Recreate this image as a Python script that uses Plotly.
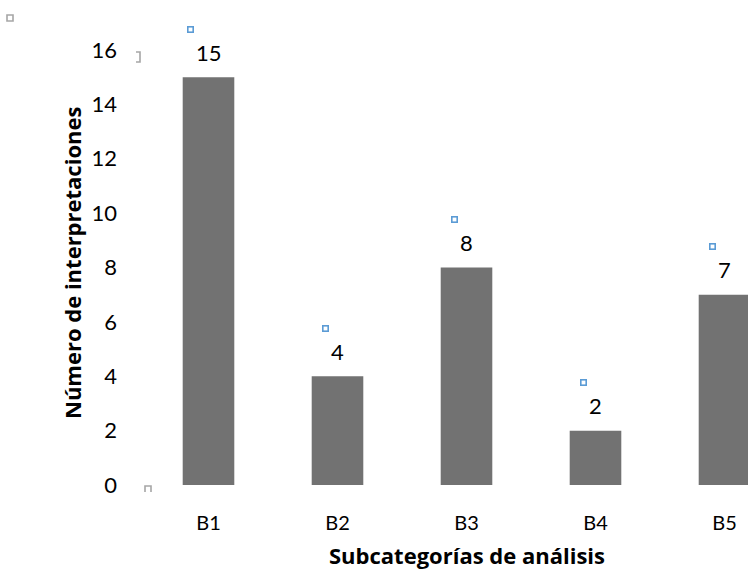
import plotly.graph_objects as go

categories = ["B1", "B2", "B3", "B4", "B5"]
values = [15, 4, 8, 2, 7]
y_ticks = [0, 2, 4, 6, 8, 10, 12, 14, 16]
x_title = "Subcategorías de análisis"
y_title = "Número de interpretaciones"

FONT = "Lato, 'Open Sans', sans-serif"
TFONT = "'Open Sans', Lato, sans-serif"
W, H = 748, 573
L, R, T, B = 144, 0, 50, 88
PW, PH = W - L - R, H - T - B

def px(xp):
    return (xp - L) / PW

def py(yp):
    return (H - B - yp) / PH

fig = go.Figure()
fig.add_trace(go.Bar(
    x=categories, y=values, width=0.4,
    marker=dict(color="#727272", line=dict(width=0)),
    hoverinfo="skip",
))

annotations = []
for c, v in zip(categories, values):
    annotations.append(dict(
        x=c, y=v, xref="x", yref="y", text=str(v), showarrow=False,
        yshift=25, yanchor="middle", xanchor="center",
        font=dict(family=FONT, size=22, color="#000000"),
    ))
    nd = len(str(v))
    annotations.append(dict(
        x=c, y=v, xref="x", yref="y", text="", showarrow=False,
        width=4, height=4, borderwidth=1.6, bordercolor="#5B9BD5", borderpad=0,
        xshift=-(6 + 6 * nd), yshift=48, xanchor="center", yanchor="middle",
    ))

annotations.append(dict(
    x="B3", xref="x", y=0, yref="paper", yanchor="bottom", xanchor="center", yshift=-87,
    text="<b>" + x_title + "</b>", showarrow=False,
    font=dict(family=TFONT, size=22, color="#000000"),
))
annotations.append(dict(
    x=0, xref="paper", xshift=-72, xanchor="center", y=py(263), yref="paper", yanchor="middle",
    text="<b>" + y_title + "</b>", showarrow=False, textangle=-90,
    font=dict(family=TFONT, size=22, color="#000000"),
))

gray = "#A6A6A6"
shapes = [
    dict(type="rect", xref="paper", yref="paper",
         x0=px(7), x1=px(13), y0=py(21), y1=py(15),
         line=dict(color=gray, width=1.6), fillcolor="white"),
    dict(type="path", xref="paper", yref="paper",
         path=f"M {px(136)},{py(52)} L {px(140)},{py(52)} L {px(140)},{py(62)} L {px(136)},{py(62)}",
         line=dict(color=gray, width=1.6)),
    dict(type="path", xref="paper", yref="paper",
         path=f"M {px(145)},{py(492)} L {px(145)},{py(486)} L {px(151)},{py(486)} L {px(151)},{py(492)}",
         line=dict(color=gray, width=1.6)),
]

fig.update_layout(
    width=W, height=H,
    margin=dict(l=L, r=R, t=T, b=B, pad=0),
    paper_bgcolor="white", plot_bgcolor="white",
    showlegend=False,
    annotations=annotations,
    shapes=shapes,
    xaxis=dict(
        type="category", range=[-0.5, -0.5 + PW / 129.0],
        showline=False, showgrid=False, zeroline=False, ticks="",
        tickfont=dict(family=FONT, size=20, color="#000000"),
        ticklabelstandoff=24,
    ),
    yaxis=dict(
        range=[0, 16], tickvals=y_ticks,
        showline=False, showgrid=False, zeroline=False, ticks="",
        tickfont=dict(family=FONT, size=22, color="#000000"),
        ticklabelstandoff=26,
    ),
)

fig.write_html(
    "out.html",
    config={"displayModeBar": False},
    post_script="document.body.style.margin='0';document.body.style.overflow='hidden';",
)
